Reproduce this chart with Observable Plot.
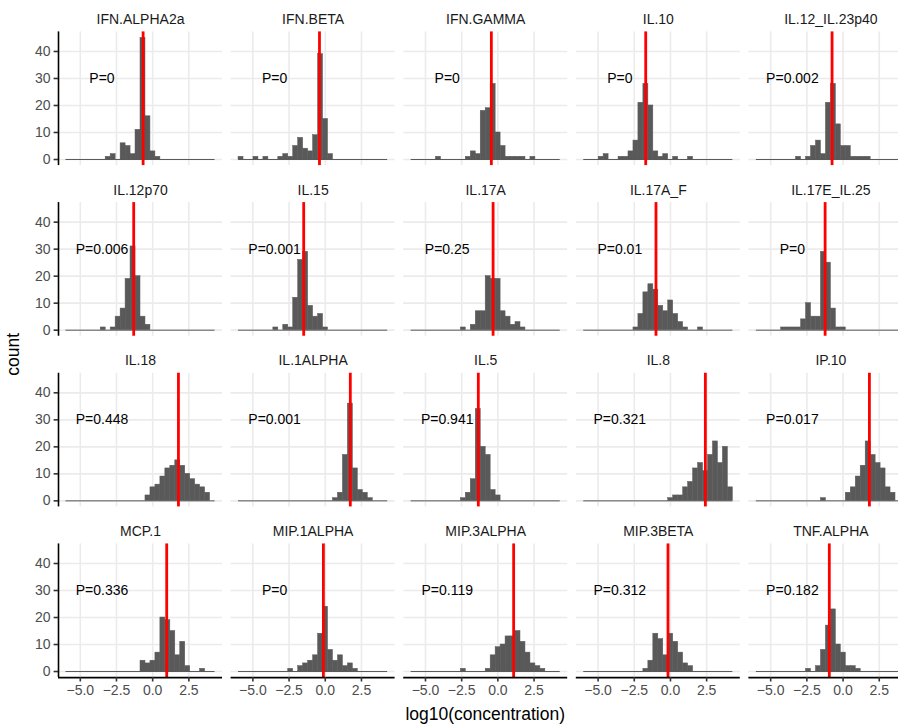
<!DOCTYPE html>
<html><head><meta charset="utf-8">
<script src="https://cdn.jsdelivr.net/npm/d3@7"></script>
<script src="https://cdn.jsdelivr.net/npm/@observablehq/plot@0.6"></script>
<style>
html,body{margin:0;padding:0;background:#fff;overflow:hidden;}
#chart{width:898px;height:726px;overflow:hidden;}
#chart svg{max-width:none !important;height:726px !important;}
</style></head><body><div id="chart"></div>
<script>
// ---- data ----
const cytokines = ["IFN.ALPHA2a","IFN.BETA","IFN.GAMMA","IL.10","IL.12_IL.23p40",
  "IL.12p70","IL.15","IL.17A","IL.17A_F","IL.17E_IL.25",
  "IL.18","IL.1ALPHA","IL.5","IL.8","IP.10",
  "MCP.1","MIP.1ALPHA","MIP.3ALPHA","MIP.3BETA","TNF.ALPHA"];
const pValues = ["0","0","0","0","0.002","0.006","0.001","0.25","0.01","0",
  "0.448","0.001","0.941","0.321","0.017","0.336","0","0.119","0.312","0.182"];
const medians = [-0.66,-0.40,-0.45,-1.71,-0.76,-1.31,-1.49,-0.33,-1.00,-1.24,
  1.78,1.73,-1.35,2.41,1.82,0.97,-0.13,1.09,-0.17,-0.95];
// shared histogram bins (30 bins)
const binStart = -5.99;
const binWidth = 0.3433;
const nBins = 30;
// counts per bin, per cytokine
const counts = [
  [0,0,0,0,0,0,0,0,1,2, 0,6,5,2,11,45,16,3,1,0, 0,0,0,0,0,0,0,0,0,0],
  [1,0,0,1,0,1,0,0,1,2, 1,5,8,4,3,9,39,15,2,0, 0,0,0,0,0,0,0,0,0,0],
  [0,0,0,0,0,1,0,0,0,0, 0,1,3,2,18,19,28,10,5,1, 1,1,1,0,1,0,0,0,0,0],
  [0,0,0,1,2,0,0,1,1,3, 7,21,28,20,3,1,2,0,1,0, 0,1,0,0,0,0,0,0,0,0],
  [0,0,0,0,0,0,0,0,1,0, 1,5,7,2,21,28,13,5,5,1, 1,1,1,0,0,0,0,0,0,0],
  [0,0,0,0,0,0,0,1,0,1, 5,8,19,31,20,5,2,0,0,0, 0,0,0,0,0,0,0,0,0,0],
  [0,0,0,0,0,0,0,1,0,2, 1,12,26,29,9,5,6,1,0,0, 0,0,0,0,0,0,0,0,0,0],
  [0,0,0,0,0,0,0,0,0,0, 1,0,2,7,7,20,19,19,7,5, 2,3,1,0,0,0,0,0,0,0],
  [0,0,0,0,0,0,0,0,0,0, 1,6,14,17,15,9,7,11,6,3, 1,0,0,1,0,0,0,0,0,0],
  [0,0,0,0,0,1,1,1,1,4, 10,5,5,29,25,8,1,1,0,0, 0,0,0,0,0,0,0,0,0,0],
  [0,0,0,0,0,0,0,0,0,0, 0,0,0,0,0,0,2,5,6,9, 12,13,15,13,10,8,6,5,3,0],
  [0,0,0,0,0,0,0,0,0,0, 0,0,0,0,0,0,0,0,0,1, 3,17,36,12,4,3,1,0,0,0],
  [0,0,0,0,0,0,0,0,0,0, 1,3,8,34,20,17,4,2,0,0, 0,0,0,0,0,0,0,0,0,0],
  [0,0,0,0,0,0,0,0,0,0, 0,0,0,0,0,0,0,1,2,2, 5,7,12,14,11,17,22,14,20,5],
  [0,0,0,0,0,0,0,0,0,0, 0,0,0,1,0,0,0,0,3,5, 9,13,22,17,14,12,5,3,0,0],
  [0,0,0,0,0,0,0,0,0,0, 0,0,0,0,0,4,3,4,7,20, 19,15,6,11,2,0,0,1,0,0],
  [0,0,0,0,0,0,0,0,0,0, 1,0,2,3,4,6,14,24,8,4, 6,2,3,1,0,0,0,0,0,0],
  [0,0,0,0,0,0,0,0,0,0, 1,0,0,0,0,1,6,9,10,13, 13,15,11,7,3,2,1,0,0,0],
  [0,0,0,0,0,0,0,0,0,0, 0,0,1,4,14,12,6,14,11,7, 3,2,0,0,0,0,0,0,0,0],
  [0,0,0,0,0,0,0,0,0,0, 1,0,2,8,17,23,10,7,2,2, 1,0,0,0,0,0,0,0,0,0]
];
const xTicks = [-5, -2.5, 0, 2.5];
const yTicks = [0, 10, 20, 30, 40];
const countMax = 45;
const pLabelX = -3.5, pLabelY = 30;

// ---- derived tables ----
const nCols = 5, nRows = 4;
const binEnd = binStart + nBins * binWidth;
const bars = [];
cytokines.forEach((name, i) => {
  counts[i].forEach((c, k) => {
    bars.push({name, col: i % nCols, row: Math.floor(i / nCols),
      x1: binStart + k * binWidth, x2: binStart + (k + 1) * binWidth, count: c});
  });
});
const panels = cytokines.map((name, i) => ({name, col: i % nCols, row: Math.floor(i / nCols),
  median: medians[i], label: "P=" + pValues[i]}));
const leftPanels = d3.range(nRows).map(r => ({col: 0, row: r}));
const bottomPanels = d3.range(nCols).map(c => ({col: c, row: nRows - 1}));

const span = binEnd - binStart;
const xDomain = [binStart - 0.05 * span, binEnd + 0.05 * span];
const yDomain = [-0.05 * countMax, countMax * 1.05];

const W = 917, H = 726, mL = 58, mR = 4.6, mT = 31.4, mB = 48.9;
const font = "'Liberation Sans', Arial, Helvetica, sans-serif";

const chart = Plot.plot({
  width: W, height: H,
  marginLeft: mL, marginRight: mR, marginTop: mT, marginBottom: mB,
  style: {fontFamily: font, background: "#fff", overflow: "visible", maxWidth: "none"},
  fx: {domain: d3.range(nCols), paddingInner: 0.0498, paddingOuter: 0, round: false, axis: null},
  fy: {domain: d3.range(nRows), paddingInner: 0.2168, paddingOuter: 0, round: false, axis: null},
  x: {domain: xDomain},
  y: {domain: yDomain},
  marks: [
    Plot.gridX(xTicks, {stroke: "#EBEBEB", strokeOpacity: 1, strokeWidth: 1.6}),
    Plot.gridY(yTicks, {stroke: "#EBEBEB", strokeOpacity: 1, strokeWidth: 1.6}),
    Plot.ruleY(panels, {y: 0, x1: () => binStart, x2: () => binEnd, fx: "col", fy: "row", stroke: "#595959", strokeWidth: 1}),
    Plot.rect(bars, {x1: "x1", x2: "x2", y1: 0, y2: "count", fx: "col", fy: "row", fill: "#595959",
      stroke: "#595959", strokeWidth: 0.5}),
    Plot.ruleX(panels, {x: "median", fx: "col", fy: "row", stroke: "#FF0000", strokeWidth: 2.8}),
    Plot.text(panels, {x: () => pLabelX, y: () => pLabelY, text: "label", fx: "col", fy: "row",
      fontSize: 14, fill: "#000", lineAnchor: "middle"}),
    Plot.text(panels, {text: "name", fx: "col", fy: "row", frameAnchor: "top", dy: -12.5,
      lineAnchor: "middle", fontSize: 14, fill: "#1A1A1A"}),
    // axis lines
    Plot.ruleX(leftPanels, {x: () => xDomain[0], fx: "col", fy: "row", stroke: "#000", strokeWidth: 1.6}),
    Plot.ruleY(bottomPanels, {y: () => yDomain[0], fx: "col", fy: "row", stroke: "#000", strokeWidth: 1.6}),
    // ticks
    Plot.axisY({ticks: yTicks, anchor: "left", facetAnchor: "left", tickSize: 4.4, tickFormat: () => "",
      stroke: "#333333", strokeWidth: 1.6, label: null}),
    Plot.axisY({ticks: yTicks, anchor: "left", facetAnchor: "left", tickSize: 0, tickPadding: 8,
      fontSize: 14, color: "#4D4D4D", label: null}),
    Plot.axisX({ticks: xTicks, anchor: "bottom", facetAnchor: "bottom", tickSize: 4.4, tickFormat: () => "",
      stroke: "#333333", strokeWidth: 1.6, label: null}),
    Plot.axisX({ticks: xTicks, anchor: "bottom", facetAnchor: "bottom", tickSize: 0, tickPadding: 7.5,
      fontSize: 14, color: "#4D4D4D", label: null, tickFormat: d3.format(".1f")})
  ]
});
chart.style.maxWidth = "none";
chart.style.width = W + "px";
chart.style.height = H + "px";

const svg = d3.select(chart);
const cx = mL + (W - mL - mR) / 2;
svg.append("text").attr("x", cx).attr("y", 715).attr("text-anchor", "middle")
  .attr("dominant-baseline", "middle").attr("font-size", 17.5).attr("font-family", font)
  .attr("fill", "#000").text("log10(concentration)");
const cy = mT + (H - mT - mB) / 2;
svg.append("text").attr("transform", `translate(14,${cy}) rotate(-90)`).attr("text-anchor", "middle")
  .attr("dominant-baseline", "middle").attr("font-size", 17.5).attr("font-family", font)
  .attr("fill", "#000").text("count");
document.getElementById("chart").appendChild(chart);
</script>
</body></html>
